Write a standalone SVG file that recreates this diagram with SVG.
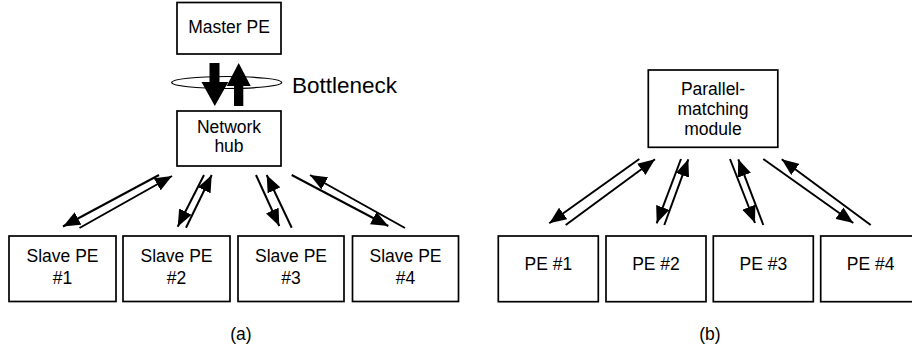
<svg xmlns="http://www.w3.org/2000/svg" width="912" height="349" viewBox="0 0 912 349">
  <style>
    .box { fill: #fff; stroke: #000; stroke-width: 1.7; }
    .lbl { font-family: "Liberation Sans", Arial, sans-serif; font-size: 17.5px; fill: #000; text-anchor: middle; }
    .big { font-family: "Liberation Sans", Arial, sans-serif; font-size: 22.5px; fill: #000; }
    .link { fill: none; stroke: #000; stroke-width: 2; marker-end: url(#head); }
  </style>
  <defs>
    <marker id="head" viewBox="0 0 17 14" refX="17" refY="7" markerWidth="17" markerHeight="14" markerUnits="userSpaceOnUse" orient="auto">
      <path d="M0,0 L17,7 L0,14 z" fill="#000"/>
    </marker>
  </defs>
  <rect width="912" height="349" fill="#fff"/>

  <!-- (a) master / slave arrangement -->
  <g id="master-pe">
    <rect class="box" x="177" y="2.5" width="104" height="51.5"/>
    <text class="lbl" x="229" y="32.5">Master PE</text>
  </g>
  <g id="bottleneck">
    <ellipse cx="226.7" cy="82.5" rx="55" ry="6" fill="none" stroke="#000" stroke-width="1.2"/>
    <polygon points="209.5,63 219.5,63 219.5,82 228.3,82 214.8,106 201.5,82 209.5,82" fill="#000"/>
    <polygon points="238.7,63 250.7,86 243.3,86 243.3,106 234,106 234,86 226.7,86" fill="#000"/>
    <text class="big" x="292" y="93">Bottleneck</text>
  </g>
  <g id="network-hub">
    <rect class="box" x="177" y="111" width="104" height="55"/>
    <text class="lbl" x="229" y="133.3">Network</text>
    <text class="lbl" x="229" y="151.7">hub</text>
  </g>
  <g id="slave-pe-1">
    <rect class="box" x="9" y="236" width="107" height="65.5"/>
    <text class="lbl" x="62.5" y="261.7">Slave PE</text>
    <text class="lbl" x="62.5" y="284">#1</text>
  </g>
  <g id="slave-pe-2">
    <rect class="box" x="123" y="236" width="107" height="65.5"/>
    <text class="lbl" x="176.5" y="261.7">Slave PE</text>
    <text class="lbl" x="176.5" y="284">#2</text>
  </g>
  <g id="slave-pe-3">
    <rect class="box" x="238" y="236" width="106" height="65.5"/>
    <text class="lbl" x="291" y="261.7">Slave PE</text>
    <text class="lbl" x="291" y="284">#3</text>
  </g>
  <g id="slave-pe-4">
    <rect class="box" x="352.5" y="236" width="106" height="65.5"/>
    <text class="lbl" x="405.5" y="261.7">Slave PE</text>
    <text class="lbl" x="405.5" y="284">#4</text>
  </g>
  <text id="caption-a" class="lbl" x="241" y="340">(a)</text>

  <!-- (b) parallel-matching arrangement -->
  <g id="pm-module">
    <rect class="box" x="648.3" y="70" width="129.5" height="77.3"/>
    <text class="lbl" x="713" y="94.5">Parallel-</text>
    <text class="lbl" x="713" y="114.8">matching</text>
    <text class="lbl" x="713" y="135">module</text>
  </g>
  <g id="pe-1">
    <rect class="box" x="498.3" y="236" width="100" height="65.7"/>
    <text class="lbl" x="548.3" y="270">PE #1</text>
  </g>
  <g id="pe-2">
    <rect class="box" x="606" y="236" width="100" height="65.7"/>
    <text class="lbl" x="656" y="270">PE #2</text>
  </g>
  <g id="pe-3">
    <rect class="box" x="713.3" y="236" width="100" height="65.7"/>
    <text class="lbl" x="763.3" y="270">PE #3</text>
  </g>
  <g id="pe-4">
    <rect class="box" x="820.7" y="236" width="100" height="65.7"/>
    <text class="lbl" x="870.7" y="270">PE #4</text>
  </g>
  <text id="caption-b" class="lbl" x="710" y="340">(b)</text>

  <g id="connectors">
    <!-- hub to slaves -->
    <path class="link" d="M159,175 L63,226.5"/>
    <path class="link" d="M79.5,228 L172,176"/>
    <path class="link" d="M204,175 L177.7,226.7"/>
    <path class="link" d="M186,227.7 L211.7,175"/>
    <path class="link" d="M256,175 L279.3,226"/>
    <path class="link" d="M291.7,227.7 L266.7,175"/>
    <path class="link" d="M291.7,175 L388.3,226"/>
    <path class="link" d="M405,228 L310,175"/>
    <!-- module to PEs -->
    <path class="link" d="M639.3,159 L549.3,223.3"/>
    <path class="link" d="M565.7,225 L655,159.3"/>
    <path class="link" d="M681,159 L656.7,223.3"/>
    <path class="link" d="M664.3,225 L688.3,159.3"/>
    <path class="link" d="M730,159 L755,223"/>
    <path class="link" d="M763.3,225 L738.3,159.3"/>
    <path class="link" d="M763.3,159 L853.3,223"/>
    <path class="link" d="M870.7,225 L781.7,159.3"/>
  </g>
</svg>
